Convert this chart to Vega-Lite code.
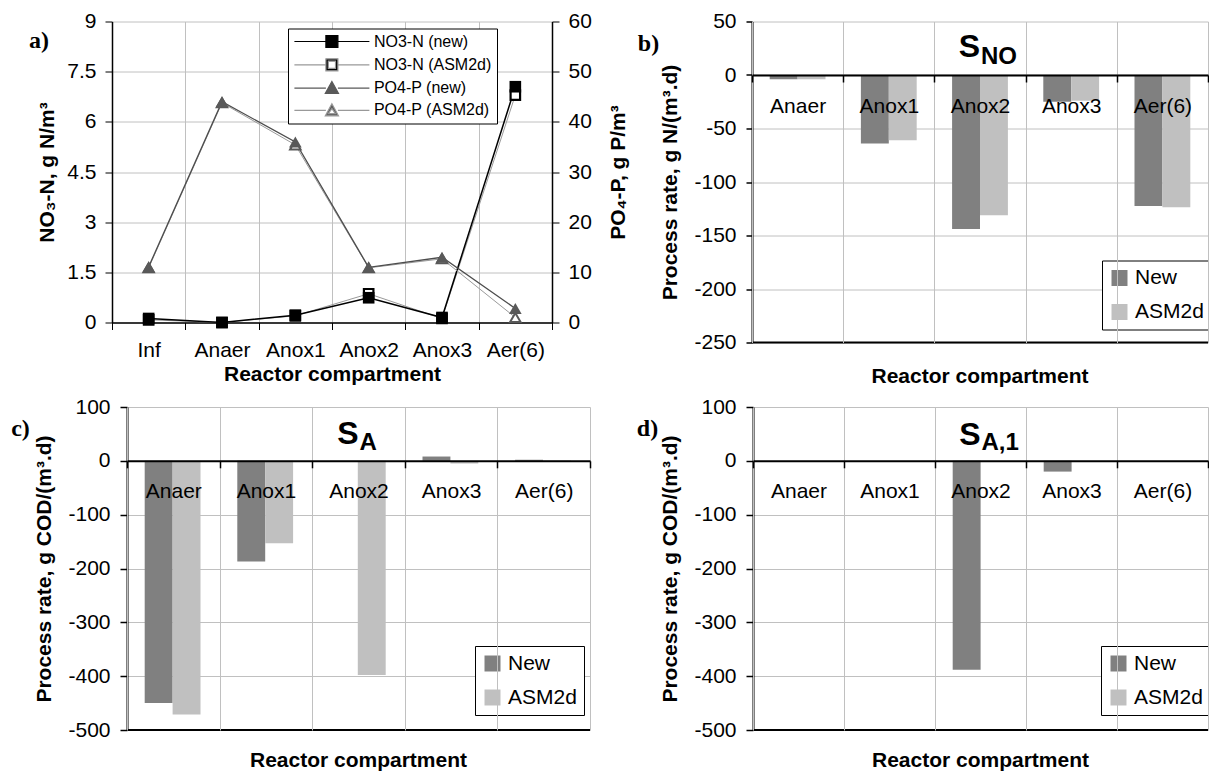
{
  "$schema": "https://vega.github.io/schema/vega-lite/v6.json",
  "background": "white",
  "padding": {"left": 11, "top": 10.5, "right": 0, "bottom": 0},
  "config": {
    "font": "Liberation Sans",
    "view": {"stroke": null},
    "axis": {"labelFontSize": 21, "labelColor": "#000", "labelFont": "Liberation Sans", "titleFont": "Liberation Sans", "titleFontSize": 21, "titleFontWeight": "bold", "titleColor": "#000", "gridColor": "#c0c0c0", "gridWidth": 1, "domainColor": "#000", "tickColor": "#000", "labelOverlap": false},
    "legend": {"labelFont": "Liberation Sans", "labelColor": "#000"},
    "locale": {"number": {"decimal": ".", "thousands": ",", "grouping": [3], "currency": ["$", ""], "minus": "-"}}
  },
  "resolve": {"scale": {"color": "independent", "shape": "independent", "fill": "independent", "stroke": "independent"}},
  "datasets": {
    "a": [
      {"cmp": "Inf", "series": "NO3-N (new)", "v": 0.12},
      {"cmp": "Anaer", "series": "NO3-N (new)", "v": 0.0},
      {"cmp": "Anox1", "series": "NO3-N (new)", "v": 0.22},
      {"cmp": "Anox2", "series": "NO3-N (new)", "v": 0.74},
      {"cmp": "Anox3", "series": "NO3-N (new)", "v": 0.15},
      {"cmp": "Aer(6)", "series": "NO3-N (new)", "v": 7.05},
      {"cmp": "Inf", "series": "NO3-N (ASM2d)", "v": 0.08},
      {"cmp": "Anaer", "series": "NO3-N (ASM2d)", "v": 0.0},
      {"cmp": "Anox1", "series": "NO3-N (ASM2d)", "v": 0.2},
      {"cmp": "Anox2", "series": "NO3-N (ASM2d)", "v": 0.86},
      {"cmp": "Anox3", "series": "NO3-N (ASM2d)", "v": 0.12},
      {"cmp": "Aer(6)", "series": "NO3-N (ASM2d)", "v": 6.8},
      {"cmp": "Inf", "series": "PO4-P (new)", "v": 11.1},
      {"cmp": "Anaer", "series": "PO4-P (new)", "v": 44.0},
      {"cmp": "Anox1", "series": "PO4-P (new)", "v": 36.0},
      {"cmp": "Anox2", "series": "PO4-P (new)", "v": 11.0},
      {"cmp": "Anox3", "series": "PO4-P (new)", "v": 13.0},
      {"cmp": "Aer(6)", "series": "PO4-P (new)", "v": 2.8},
      {"cmp": "Inf", "series": "PO4-P (ASM2d)", "v": 10.9},
      {"cmp": "Anaer", "series": "PO4-P (ASM2d)", "v": 43.8},
      {"cmp": "Anox1", "series": "PO4-P (ASM2d)", "v": 35.4},
      {"cmp": "Anox2", "series": "PO4-P (ASM2d)", "v": 10.9},
      {"cmp": "Anox3", "series": "PO4-P (ASM2d)", "v": 12.7},
      {"cmp": "Aer(6)", "series": "PO4-P (ASM2d)", "v": 1.0}
    ],
    "b": [
      {"cmp": "Anaer", "model": "New", "v": -4},
      {"cmp": "Anaer", "model": "ASM2d", "v": -4},
      {"cmp": "Anox1", "model": "New", "v": -64},
      {"cmp": "Anox1", "model": "ASM2d", "v": -61},
      {"cmp": "Anox2", "model": "New", "v": -144},
      {"cmp": "Anox2", "model": "ASM2d", "v": -131},
      {"cmp": "Anox3", "model": "New", "v": -25},
      {"cmp": "Anox3", "model": "ASM2d", "v": -24},
      {"cmp": "Aer(6)", "model": "New", "v": -122.5},
      {"cmp": "Aer(6)", "model": "ASM2d", "v": -123.5}
    ],
    "c": [
      {"cmp": "Anaer", "model": "New", "v": -450},
      {"cmp": "Anaer", "model": "ASM2d", "v": -471},
      {"cmp": "Anox1", "model": "New", "v": -187},
      {"cmp": "Anox1", "model": "ASM2d", "v": -153},
      {"cmp": "Anox2", "model": "New", "v": -1},
      {"cmp": "Anox2", "model": "ASM2d", "v": -398},
      {"cmp": "Anox3", "model": "New", "v": 8},
      {"cmp": "Anox3", "model": "ASM2d", "v": -5},
      {"cmp": "Aer(6)", "model": "New", "v": 2},
      {"cmp": "Aer(6)", "model": "ASM2d", "v": 1}
    ],
    "d": [
      {"cmp": "Anaer", "model": "New", "v": 0},
      {"cmp": "Anaer", "model": "ASM2d", "v": 0},
      {"cmp": "Anox1", "model": "New", "v": 0},
      {"cmp": "Anox1", "model": "ASM2d", "v": 0},
      {"cmp": "Anox2", "model": "New", "v": -388},
      {"cmp": "Anox2", "model": "ASM2d", "v": 0},
      {"cmp": "Anox3", "model": "New", "v": -20},
      {"cmp": "Anox3", "model": "ASM2d", "v": 0},
      {"cmp": "Aer(6)", "model": "New", "v": 0},
      {"cmp": "Aer(6)", "model": "ASM2d", "v": 0}
    ]
  },
  "spacing": 9.5,
  "vconcat": [
    {
      "bounds": "flush",
      "spacing": 200,
      "resolve": {"scale": {"color": "independent", "shape": "independent", "fill": "independent", "stroke": "independent"}},
      "hconcat": [
        {
          "width": 425,
          "height": 301,
          "data": {"name": "a"},
          "resolve": {"scale": {"y": "independent"}},
          "layer": [
            {
              "encoding": {
                "x": {"field": "cmp", "type": "nominal", "bandPosition": 0.5,
                  "scale": {"type": "band", "domain": ["Inf", "Anaer", "Anox1", "Anox2", "Anox3", "Aer(6)"], "range": [-15, 425], "paddingInner": 0, "paddingOuter": 0},
                  "axis": {"tickBand": "extent", "grid": true, "labelAngle": 0, "tickSize": 7, "labelPadding": 10, "domainWidth": 1.5, "title": "Reactor compartment", "titlePadding": 3}},
                "y": {"field": "v", "type": "quantitative", "scale": {"domain": [0, 9], "nice": false},
                  "axis": {"orient": "left", "offset": 15, "values": [0, 1.5, 3, 4.5, 6, 7.5, 9], "format": ".2~f", "grid": true, "tickSize": 7, "labelPadding": 9, "domainWidth": 1.5, "title": "NO₃-N, g N/m³", "titlePadding": 9}}
              },
              "layer": [
                {"transform": [{"filter": "datum.series === 'NO3-N (ASM2d)'"}], "mark": {"type": "line", "color": "#9a9a9a", "strokeWidth": 1}, "encoding": {"order": {"value": null}}},
                {"transform": [{"filter": "datum.series === 'NO3-N (new)'"}], "mark": {"type": "line", "color": "#000", "strokeWidth": 1.5}, "encoding": {"order": {"value": null}}},
                {"transform": [{"filter": "datum.series === 'NO3-N (ASM2d)'"}], "mark": {"type": "point", "shape": "square", "filled": true, "fill": "#fff", "stroke": "#000", "strokeWidth": 2.2, "size": 90, "opacity": 1}},
                {"transform": [{"filter": "datum.series === 'NO3-N (new)'"}], "mark": {"type": "point", "shape": "square", "filled": true, "fill": "#000", "size": 135, "opacity": 1}},
                {
                  "transform": [{"filter": "false"}],
                  "mark": {"type": "point", "filled": true, "opacity": 1},
                  "encoding": {
                    "shape": {"field": "series", "type": "nominal",
                      "scale": {"domain": ["NO3-N (new)", "NO3-N (ASM2d)", "PO4-P (new)", "PO4-P (ASM2d)"],
                        "range": [
                          "M-6.25,0H-1M1,0H6.25M-1,-1H1V1H-1Z",
                          "M-6.25,0H-1M1,0H6.25M-1,-1H1V1H-1ZM-0.6,-0.6V0.6H0.6V-0.6Z",
                          "M-6.25,0H-1M1,0H6.25M0,-1.1L1.1,0.9H-1.1Z",
                          "M-6.25,0H-1M1,0H6.25M0,-1.1L1.1,0.9H-1.1ZM0,-0.3L-0.6,0.55H0.6Z"
                        ]},
                      "legend": {"orient": "none", "legendX": 161, "legendY": 7, "title": null, "fillColor": "#fff", "strokeColor": "#000", "padding": 5, "rowPadding": 5.3, "labelFontSize": 16, "labelOffset": 34, "symbolOffset": 30.9, "symbolSize": 144, "symbolStrokeWidth": 1.2, "symbolOpacity": 1}},
                    "fill": {"field": "series", "type": "nominal",
                      "scale": {"domain": ["NO3-N (new)", "NO3-N (ASM2d)", "PO4-P (new)", "PO4-P (ASM2d)"], "range": ["#000", "#000", "#595959", "#595959"]},
                      "legend": {"orient": "none", "legendX": 161, "legendY": 7, "title": null}},
                    "stroke": {"field": "series", "type": "nominal",
                      "scale": {"domain": ["NO3-N (new)", "NO3-N (ASM2d)", "PO4-P (new)", "PO4-P (ASM2d)"], "range": ["#000", "#999", "#595959", "#999"]},
                      "legend": {"orient": "none", "legendX": 161, "legendY": 7, "title": null}}
                  }
                }
              ]
            },
            {
              "encoding": {
                "x": {"field": "cmp", "type": "nominal", "bandPosition": 0.5,
                  "scale": {"type": "band", "domain": ["Inf", "Anaer", "Anox1", "Anox2", "Anox3", "Aer(6)"], "range": [-15, 425], "paddingInner": 0, "paddingOuter": 0},
                  "axis": {"tickBand": "extent", "grid": true, "labelAngle": 0, "tickSize": 7, "labelPadding": 10, "domainWidth": 1.5, "title": "Reactor compartment", "titlePadding": 3}},
                "y": {"field": "v", "type": "quantitative", "scale": {"domain": [0, 60], "nice": false},
                  "axis": {"orient": "right", "values": [0, 10, 20, 30, 40, 50, 60], "format": ".2~f", "grid": false, "tickSize": 7, "labelPadding": 9, "domainWidth": 1.5, "title": "PO₄-P, g P/m³", "titlePadding": 16, "titleAngle": 270, "titleBaseline": "top"}}
              },
              "layer": [
                {"transform": [{"filter": "datum.series === 'PO4-P (ASM2d)'"}], "mark": {"type": "line", "color": "#9a9a9a", "strokeWidth": 1}, "encoding": {"order": {"value": null}}},
                {"transform": [{"filter": "datum.series === 'PO4-P (new)'"}], "mark": {"type": "line", "color": "#4d4d4d", "strokeWidth": 1.3}, "encoding": {"order": {"value": null}}},
                {"transform": [{"filter": "datum.series === 'PO4-P (ASM2d)'"}], "mark": {"type": "point", "shape": "triangle-up", "filled": true, "fill": "#fff", "stroke": "#595959", "strokeWidth": 2, "size": 110, "opacity": 1}},
                {"transform": [{"filter": "datum.series === 'PO4-P (new)'"}], "mark": {"type": "point", "shape": "triangle-up", "filled": true, "fill": "#595959", "size": 160, "opacity": 1}}
              ]
            },
            {
              "data": {"values": [{}]},
              "mark": {"type": "text", "text": "a)", "font": "Liberation Serif", "fontSize": 24, "fontWeight": "bold", "align": "right", "baseline": "alphabetic", "dx": -63, "color": "#000"},
              "encoding": {"x": {"datum": "Inf", "bandPosition": 0}, "y": {"datum": 8.22, "scale": {"domain": [0, 9], "nice": false}, "axis": null}}
            }
          ]
        },
        {
          "width": 456,
          "height": 321,
          "title": {"text": "Reactor compartment", "orient": "bottom", "offset": 13, "fontSize": 21, "fontWeight": "bold", "font": "Liberation Sans", "color": "#000"},
          "layer": [
            {
              "data": {"name": "b"},
              "mark": {"type": "bar"},
              "encoding": {
                "x": {"field": "cmp", "type": "nominal",
                  "scale": {"type": "band", "domain": ["Anaer", "Anox1", "Anox2", "Anox3", "Aer(6)"], "paddingInner": 0, "paddingOuter": 0},
                  "axis": {"orient": "bottom", "offset": -267.5, "tickBand": "extent", "grid": true, "labelAngle": 0, "tickSize": 7, "tickWidth": 1.5, "labelPadding": 13, "domainWidth": 2, "title": null, "zindex": 1}},
                "xOffset": {"field": "model", "type": "nominal", "scale": {"domain": ["New", "ASM2d"], "paddingInner": 0, "paddingOuter": 0.634}},
                "y": {"field": "v", "type": "quantitative", "scale": {"domain": [-250, 50], "nice": false},
                  "axis": {"values": [-250, -200, -150, -100, -50, 0, 50], "format": ".2~f", "grid": true, "tickSize": 6, "tickWidth": 1.5, "labelPadding": 10, "domainWidth": 2, "title": "Process rate, g N/(m³.d)", "titlePadding": 13}},
                "color": {"field": "model", "type": "nominal", "scale": {"domain": ["New", "ASM2d"], "range": ["#808080", "#c0c0c0"]},
                  "legend": {"orient": "none", "legendX": 350, "legendY": 239, "title": null, "fillColor": "#fff", "strokeColor": "#000", "padding": 7, "rowPadding": 12, "symbolType": "square", "symbolSize": 256, "symbolStrokeWidth": 0, "labelFontSize": 21, "labelOffset": 5}}
              }
            },
            {"data": {"values": [{}]}, "mark": {"type": "rule", "color": "#000", "strokeWidth": 2}, "encoding": {"y": {"datum": -250}}},
            {"data": {"values": [{}]}, "mark": {"type": "text", "text": "S", "fontSize": 32, "fontWeight": "bold", "align": "right", "baseline": "alphabetic", "color": "#000"}, "encoding": {"x": {"datum": "Anox2", "bandPosition": 0.5}, "y": {"datum": 16.4}}},
            {"data": {"values": [{}]}, "mark": {"type": "text", "text": "NO", "fontSize": 24, "fontWeight": "bold", "align": "left", "baseline": "alphabetic", "dx": 1, "color": "#000"}, "encoding": {"x": {"datum": "Anox2", "bandPosition": 0.5}, "y": {"datum": 10.7}}},
            {"data": {"values": [{}]}, "mark": {"type": "text", "text": "b)", "font": "Liberation Serif", "fontSize": 24, "fontWeight": "bold", "align": "center", "baseline": "alphabetic", "dx": -103.5, "color": "#000"}, "encoding": {"x": {"datum": "Anaer", "bandPosition": 0}, "y": {"datum": 22}}}
          ]
        }
      ]
    },
    {
      "bounds": "flush",
      "spacing": 163,
      "resolve": {"scale": {"color": "independent"}},
      "hconcat": [
        {
          "width": 463,
          "height": 323,
          "title": {"text": "Reactor compartment", "orient": "bottom", "offset": 10, "fontSize": 21, "fontWeight": "bold", "font": "Liberation Sans", "color": "#000"},
          "layer": [
            {
              "data": {"name": "c"},
              "mark": {"type": "bar"},
              "encoding": {
                "x": {"field": "cmp", "type": "nominal",
                  "scale": {"type": "band", "domain": ["Anaer", "Anox1", "Anox2", "Anox3", "Aer(6)"], "paddingInner": 0, "paddingOuter": 0},
                  "axis": {"orient": "bottom", "offset": -269.2, "tickBand": "extent", "grid": true, "labelAngle": 0, "tickSize": 7, "tickWidth": 1.5, "labelPadding": 13, "domainWidth": 2, "title": null, "zindex": 1}},
                "xOffset": {"field": "model", "type": "nominal", "scale": {"domain": ["New", "ASM2d"], "paddingInner": 0, "paddingOuter": 0.634}},
                "y": {"field": "v", "type": "quantitative", "scale": {"domain": [-500, 100], "nice": false},
                  "axis": {"values": [-500, -400, -300, -200, -100, 0, 100], "format": ".2~f", "grid": true, "tickSize": 7, "tickWidth": 1.5, "labelPadding": 10, "domainWidth": 2, "title": "Process rate, g COD/(m³.d)", "titlePadding": 13}},
                "color": {"field": "model", "type": "nominal", "scale": {"domain": ["New", "ASM2d"], "range": ["#808080", "#c0c0c0"]},
                  "legend": {"orient": "none", "legendX": 348, "legendY": 239, "title": null, "fillColor": "#fff", "strokeColor": "#000", "padding": 7, "rowPadding": 12, "symbolType": "square", "symbolSize": 256, "symbolStrokeWidth": 0, "labelFontSize": 21, "labelOffset": 5}}
              }
            },
            {"data": {"values": [{}]}, "mark": {"type": "rule", "color": "#000", "strokeWidth": 2}, "encoding": {"y": {"datum": -500}}},
            {"data": {"values": [{}]}, "mark": {"type": "text", "text": "S", "fontSize": 32, "fontWeight": "bold", "align": "right", "baseline": "alphabetic", "color": "#000"}, "encoding": {"x": {"datum": "Anox2", "bandPosition": 0.5}, "y": {"datum": 31}}},
            {"data": {"values": [{}]}, "mark": {"type": "text", "text": "A", "fontSize": 24, "fontWeight": "bold", "align": "left", "baseline": "alphabetic", "dx": 1, "color": "#000"}, "encoding": {"x": {"datum": "Anox2", "bandPosition": 0.5}, "y": {"datum": 20}}},
            {"data": {"values": [{}]}, "mark": {"type": "text", "text": "c)", "font": "Liberation Serif", "fontSize": 24, "fontWeight": "bold", "align": "center", "baseline": "alphabetic", "dx": -106.5, "color": "#000"}, "encoding": {"x": {"datum": "Anaer", "bandPosition": 0}, "y": {"datum": 46}}}
          ]
        },
        {
          "width": 455,
          "height": 323,
          "title": {"text": "Reactor compartment", "orient": "bottom", "offset": 10, "fontSize": 21, "fontWeight": "bold", "font": "Liberation Sans", "color": "#000"},
          "layer": [
            {
              "data": {"name": "d"},
              "mark": {"type": "bar"},
              "encoding": {
                "x": {"field": "cmp", "type": "nominal",
                  "scale": {"type": "band", "domain": ["Anaer", "Anox1", "Anox2", "Anox3", "Aer(6)"], "paddingInner": 0, "paddingOuter": 0},
                  "axis": {"orient": "bottom", "offset": -269.2, "tickBand": "extent", "grid": true, "labelAngle": 0, "tickSize": 7, "tickWidth": 1.5, "labelPadding": 13, "domainWidth": 2, "title": null, "zindex": 1}},
                "xOffset": {"field": "model", "type": "nominal", "scale": {"domain": ["New", "ASM2d"], "paddingInner": 0, "paddingOuter": 0.634}},
                "y": {"field": "v", "type": "quantitative", "scale": {"domain": [-500, 100], "nice": false},
                  "axis": {"values": [-500, -400, -300, -200, -100, 0, 100], "format": ".2~f", "grid": true, "tickSize": 7, "tickWidth": 1.5, "labelPadding": 10, "domainWidth": 2, "title": "Process rate, g COD/(m³.d)", "titlePadding": 13}},
                "color": {"field": "model", "type": "nominal", "scale": {"domain": ["New", "ASM2d"], "range": ["#808080", "#c0c0c0"]},
                  "legend": {"orient": "none", "legendX": 348, "legendY": 239, "title": null, "fillColor": "#fff", "strokeColor": "#000", "padding": 7, "rowPadding": 12, "symbolType": "square", "symbolSize": 256, "symbolStrokeWidth": 0, "labelFontSize": 21, "labelOffset": 5}}
              }
            },
            {"data": {"values": [{}]}, "mark": {"type": "rule", "color": "#000", "strokeWidth": 2}, "encoding": {"y": {"datum": -500}}},
            {"data": {"values": [{}]}, "mark": {"type": "text", "text": "S", "fontSize": 32, "fontWeight": "bold", "align": "right", "baseline": "alphabetic", "color": "#000"}, "encoding": {"x": {"datum": "Anox2", "bandPosition": 0.5}, "y": {"datum": 29.7}}},
            {"data": {"values": [{}]}, "mark": {"type": "text", "text": "A,1", "fontSize": 24, "fontWeight": "bold", "align": "left", "baseline": "alphabetic", "dx": 1, "color": "#000"}, "encoding": {"x": {"datum": "Anox2", "bandPosition": 0.5}, "y": {"datum": 20.4}}},
            {"data": {"values": [{}]}, "mark": {"type": "text", "text": "d)", "font": "Liberation Serif", "fontSize": 24, "fontWeight": "bold", "align": "center", "baseline": "alphabetic", "dx": -105.5, "color": "#000"}, "encoding": {"x": {"datum": "Anaer", "bandPosition": 0}, "y": {"datum": 46.4}}}
          ]
        }
      ]
    }
  ]
}
